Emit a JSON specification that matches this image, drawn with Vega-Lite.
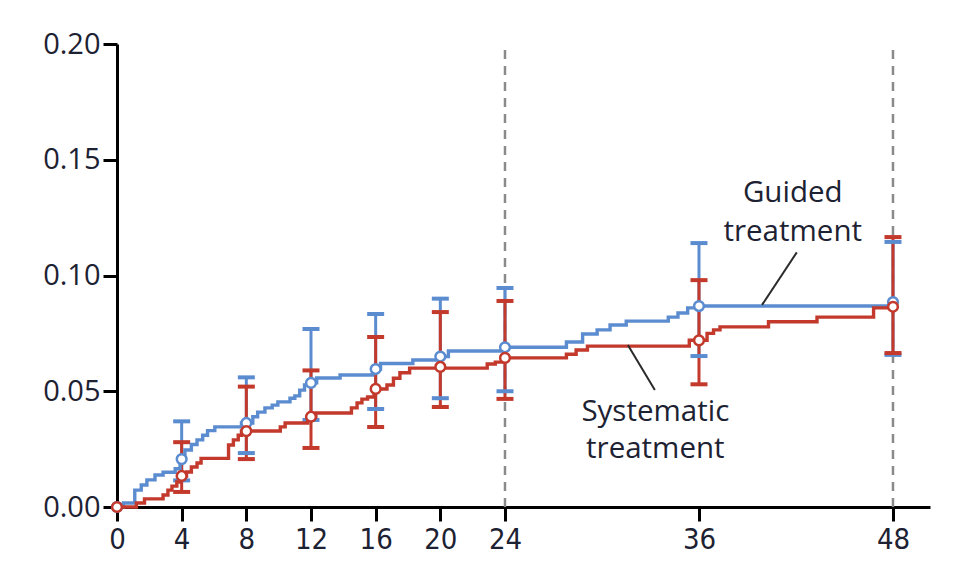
{
  "$schema": "https://vega.github.io/schema/vega-lite/v6.json",
  "width": 813,
  "height": 463,
  "autosize": {"type": "none"},
  "padding": {"left": 117, "top": 44, "right": 31, "bottom": 56},
  "background": "white",
  "config": {
    "view": {"stroke": null},
    "axis": {
      "grid": false,
      "domainColor": "black",
      "domainWidth": 3,
      "tickColor": "black",
      "tickWidth": 3,
      "tickSize": 14,
      "labelColor": "#1d2233",
      "title": null
    }
  },
  "datasets": {
    "curves": [
      {"series": "Guided", "t": 0, "p": 0},
      {"series": "Guided", "t": 0.4, "p": 0.0017},
      {"series": "Guided", "t": 1.1, "p": 0.0073},
      {"series": "Guided", "t": 1.5, "p": 0.0095},
      {"series": "Guided", "t": 1.85, "p": 0.0117},
      {"series": "Guided", "t": 2.35, "p": 0.0138},
      {"series": "Guided", "t": 2.85, "p": 0.015},
      {"series": "Guided", "t": 3.6, "p": 0.0165},
      {"series": "Guided", "t": 3.9, "p": 0.021},
      {"series": "Guided", "t": 4.2, "p": 0.0246},
      {"series": "Guided", "t": 4.6, "p": 0.027},
      {"series": "Guided", "t": 4.95, "p": 0.029},
      {"series": "Guided", "t": 5.3, "p": 0.031},
      {"series": "Guided", "t": 5.6, "p": 0.033},
      {"series": "Guided", "t": 6.05, "p": 0.0346},
      {"series": "Guided", "t": 7.7, "p": 0.0363},
      {"series": "Guided", "t": 8.4, "p": 0.039},
      {"series": "Guided", "t": 8.7, "p": 0.041},
      {"series": "Guided", "t": 9.15, "p": 0.0428},
      {"series": "Guided", "t": 9.6, "p": 0.044},
      {"series": "Guided", "t": 9.95, "p": 0.0454},
      {"series": "Guided", "t": 10.7, "p": 0.047},
      {"series": "Guided", "t": 11.0, "p": 0.048},
      {"series": "Guided", "t": 11.3, "p": 0.0505},
      {"series": "Guided", "t": 11.6, "p": 0.0527},
      {"series": "Guided", "t": 11.9, "p": 0.0536},
      {"series": "Guided", "t": 12.35, "p": 0.0557},
      {"series": "Guided", "t": 13.8, "p": 0.057},
      {"series": "Guided", "t": 15.8, "p": 0.0596},
      {"series": "Guided", "t": 16.3, "p": 0.062},
      {"series": "Guided", "t": 18.3, "p": 0.0635},
      {"series": "Guided", "t": 19.9, "p": 0.065},
      {"series": "Guided", "t": 20.5, "p": 0.0674},
      {"series": "Guided", "t": 23.8, "p": 0.069},
      {"series": "Guided", "t": 27.8, "p": 0.0713},
      {"series": "Guided", "t": 28.8, "p": 0.0747},
      {"series": "Guided", "t": 29.7, "p": 0.0765},
      {"series": "Guided", "t": 30.5, "p": 0.0786},
      {"series": "Guided", "t": 31.5, "p": 0.0803},
      {"series": "Guided", "t": 34.1, "p": 0.082},
      {"series": "Guided", "t": 34.7, "p": 0.0838},
      {"series": "Guided", "t": 35.3, "p": 0.086},
      {"series": "Guided", "t": 35.8, "p": 0.0868},
      {"series": "Guided", "t": 48, "p": 0.0868},
      {"series": "Systematic", "t": 0, "p": 0},
      {"series": "Systematic", "t": 1.2, "p": 0.0017},
      {"series": "Systematic", "t": 1.7, "p": 0.0035},
      {"series": "Systematic", "t": 2.85, "p": 0.0052},
      {"series": "Systematic", "t": 3.15, "p": 0.0073},
      {"series": "Systematic", "t": 3.4, "p": 0.009},
      {"series": "Systematic", "t": 3.7, "p": 0.0108},
      {"series": "Systematic", "t": 3.95, "p": 0.0134},
      {"series": "Systematic", "t": 4.3, "p": 0.0151},
      {"series": "Systematic", "t": 4.6, "p": 0.0173},
      {"series": "Systematic", "t": 4.95, "p": 0.019},
      {"series": "Systematic", "t": 5.2, "p": 0.021},
      {"series": "Systematic", "t": 6.9, "p": 0.0268},
      {"series": "Systematic", "t": 7.2, "p": 0.029},
      {"series": "Systematic", "t": 7.5, "p": 0.031},
      {"series": "Systematic", "t": 7.7, "p": 0.0328},
      {"series": "Systematic", "t": 10.1, "p": 0.0346},
      {"series": "Systematic", "t": 10.4, "p": 0.0363},
      {"series": "Systematic", "t": 11.8, "p": 0.039},
      {"series": "Systematic", "t": 12.3, "p": 0.0406},
      {"series": "Systematic", "t": 14.5, "p": 0.0428},
      {"series": "Systematic", "t": 14.85, "p": 0.045},
      {"series": "Systematic", "t": 15.15, "p": 0.0466},
      {"series": "Systematic", "t": 15.5, "p": 0.0475},
      {"series": "Systematic", "t": 15.9, "p": 0.051},
      {"series": "Systematic", "t": 16.7, "p": 0.0527},
      {"series": "Systematic", "t": 17.1, "p": 0.0556},
      {"series": "Systematic", "t": 17.5, "p": 0.058},
      {"series": "Systematic", "t": 18.1, "p": 0.06},
      {"series": "Systematic", "t": 22.9, "p": 0.0618},
      {"series": "Systematic", "t": 23.4, "p": 0.0626},
      {"series": "Systematic", "t": 23.9, "p": 0.0644},
      {"series": "Systematic", "t": 27.8, "p": 0.066},
      {"series": "Systematic", "t": 28.4, "p": 0.0678},
      {"series": "Systematic", "t": 29.1, "p": 0.0695},
      {"series": "Systematic", "t": 35.4, "p": 0.072},
      {"series": "Systematic", "t": 36.5, "p": 0.075},
      {"series": "Systematic", "t": 36.9, "p": 0.0765},
      {"series": "Systematic", "t": 37.3, "p": 0.0778},
      {"series": "Systematic", "t": 40.3, "p": 0.08},
      {"series": "Systematic", "t": 43.3, "p": 0.082},
      {"series": "Systematic", "t": 46.8, "p": 0.086},
      {"series": "Systematic", "t": 48, "p": 0.086}
    ],
    "estimates": [
      {"series": "Guided", "t": 0, "p": 0, "lo": 0, "hi": 0},
      {"series": "Guided", "t": 4, "p": 0.0207, "lo": 0.0115, "hi": 0.037},
      {"series": "Guided", "t": 8, "p": 0.0363, "lo": 0.0233, "hi": 0.056},
      {"series": "Guided", "t": 12, "p": 0.0536, "lo": 0.0376, "hi": 0.0769},
      {"series": "Guided", "t": 16, "p": 0.0596, "lo": 0.0423, "hi": 0.0834},
      {"series": "Guided", "t": 20, "p": 0.065, "lo": 0.047, "hi": 0.09},
      {"series": "Guided", "t": 24, "p": 0.069, "lo": 0.05, "hi": 0.0946},
      {"series": "Guided", "t": 36, "p": 0.0868, "lo": 0.0652, "hi": 0.114},
      {"series": "Guided", "t": 48, "p": 0.0885, "lo": 0.0657, "hi": 0.1145},
      {"series": "Systematic", "t": 0, "p": 0, "lo": 0, "hi": 0},
      {"series": "Systematic", "t": 4, "p": 0.0134, "lo": 0.0065, "hi": 0.028},
      {"series": "Systematic", "t": 8, "p": 0.0328, "lo": 0.0207, "hi": 0.052},
      {"series": "Systematic", "t": 12, "p": 0.039, "lo": 0.0255, "hi": 0.059},
      {"series": "Systematic", "t": 16, "p": 0.051, "lo": 0.0346, "hi": 0.0734},
      {"series": "Systematic", "t": 20, "p": 0.0605, "lo": 0.0432, "hi": 0.0842},
      {"series": "Systematic", "t": 24, "p": 0.0644, "lo": 0.0467, "hi": 0.089},
      {"series": "Systematic", "t": 36, "p": 0.072, "lo": 0.053, "hi": 0.098},
      {"series": "Systematic", "t": 48, "p": 0.0865, "lo": 0.0665, "hi": 0.1166}
    ],
    "landmarks": [{"t": 24}, {"t": 48}],
    "single": [{"k": 1}]
  },
  "layer": [
    {
      "data": {"name": "landmarks"},
      "mark": {"type": "rule", "color": "#8a8a8a", "strokeWidth": 2.5, "strokeDash": [9, 7]},
      "encoding": {
        "x": {"field": "t", "type": "quantitative", "scale": {"domain": [0, 50.29], "nice": false, "zero": false}, "axis": {
          "values": [0, 4, 8, 12, 16, 20, 24, 36, 48],
          "labelFont": "DejaVu Sans Condensed",
          "labelFontSize": 29,
          "labelPadding": 4,
          "labelFlush": false
        }},
        "y": {"datum": 0, "type": "quantitative", "scale": {"domain": [0, 0.2], "nice": false}, "axis": {
          "values": [0, 0.05, 0.1, 0.15, 0.2],
          "format": ".2f",
          "labelFont": "Open Sans",
          "labelFontSize": 29,
          "labelPadding": 3,
          "labelFlush": false
        }},
        "y2": {"datum": 0.2}
      }
    },
    {
      "data": {"name": "estimates"},
      "transform": [{"filter": "datum.t > 0"}],
      "mark": {"type": "rule", "strokeWidth": 3},
      "encoding": {
        "x": {"field": "t", "type": "quantitative"},
        "y": {"field": "lo", "type": "quantitative"},
        "y2": {"field": "hi"},
        "color": {"field": "series", "type": "nominal", "scale": {"domain": ["Guided", "Systematic"], "range": ["#5b8cd0", "#c3392c"]}, "legend": null}
      }
    },
    {
      "data": {"name": "estimates"},
      "transform": [{"filter": "datum.t > 0"}],
      "mark": {"type": "tick", "orient": "horizontal", "size": 17, "thickness": 4, "opacity": 1},
      "encoding": {
        "x": {"field": "t", "type": "quantitative"},
        "y": {"field": "lo", "type": "quantitative"},
        "color": {"field": "series", "type": "nominal", "legend": null}
      }
    },
    {
      "data": {"name": "estimates"},
      "transform": [{"filter": "datum.t > 0"}],
      "mark": {"type": "tick", "orient": "horizontal", "size": 17, "thickness": 4, "opacity": 1},
      "encoding": {
        "x": {"field": "t", "type": "quantitative"},
        "y": {"field": "hi", "type": "quantitative"},
        "color": {"field": "series", "type": "nominal", "legend": null}
      }
    },
    {
      "data": {"name": "curves"},
      "mark": {"type": "line", "interpolate": "step-after", "strokeWidth": 3.4},
      "encoding": {
        "x": {"field": "t", "type": "quantitative"},
        "y": {"field": "p", "type": "quantitative"},
        "color": {"field": "series", "type": "nominal", "legend": null},
        "detail": {"field": "series"}
      }
    },
    {
      "data": {"name": "estimates"},
      "mark": {"type": "point", "shape": "circle", "filled": false, "fill": "white", "fillOpacity": 1, "opacity": 1, "size": 95, "strokeWidth": 2.5},
      "encoding": {
        "x": {"field": "t", "type": "quantitative"},
        "y": {"field": "p", "type": "quantitative"},
        "stroke": {"field": "series", "type": "nominal", "scale": {"domain": ["Guided", "Systematic"], "range": ["#5b8cd0", "#c3392c"]}, "legend": null}
      }
    },
    {
      "data": {"name": "single"},
      "mark": {"type": "rule", "color": "#2a2a2a", "strokeWidth": 2},
      "encoding": {
        "x": {"datum": 42.05},
        "y": {"datum": 0.11},
        "x2": {"datum": 39.9},
        "y2": {"datum": 0.0873}
      }
    },
    {
      "data": {"name": "single"},
      "mark": {"type": "rule", "color": "#2a2a2a", "strokeWidth": 2},
      "encoding": {
        "x": {"datum": 31.6},
        "y": {"datum": 0.07},
        "x2": {"datum": 33.27},
        "y2": {"datum": 0.0505}
      }
    },
    {
      "data": {"name": "single"},
      "mark": {"type": "text", "text": ["Guided", "treatment"], "font": "Open Sans", "fontSize": 29.5, "lineHeight": 39, "align": "center", "baseline": "middle", "color": "#1d2233"},
      "encoding": {
        "x": {"datum": 41.8},
        "y": {"datum": 0.1356}
      }
    },
    {
      "data": {"name": "single"},
      "mark": {"type": "text", "text": ["Systematic", "treatment"], "font": "Open Sans", "fontSize": 29.5, "lineHeight": 37, "align": "center", "baseline": "middle", "color": "#1d2233"},
      "encoding": {
        "x": {"datum": 33.3},
        "y": {"datum": 0.041}
      }
    }
  ]
}
